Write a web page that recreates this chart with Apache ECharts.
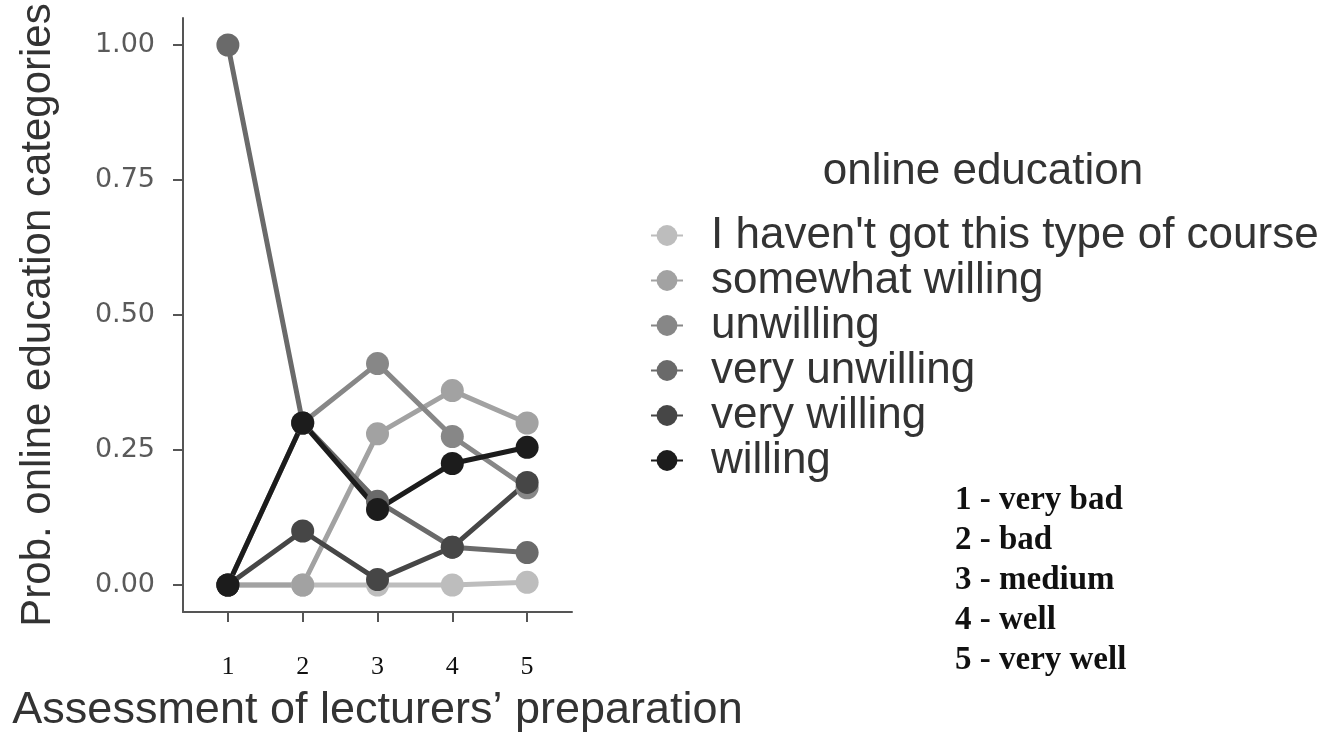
<!DOCTYPE html>
<html>
<head>
<meta charset="utf-8">
<script src="https://cdn.jsdelivr.net/npm/echarts@6/dist/echarts.min.js"></script>
<style>
html,body{margin:0;padding:0;background:#fff;}
#chart{width:1332px;height:739px;}
</style>
</head>
<body>
<div id="chart"></div>
<script>
const categories = [1, 2, 3, 4, 5];
const seriesNames = ["I haven't got this type of course", "somewhat willing", "unwilling", "very unwilling", "very willing", "willing"];
const haventGot      = [0.00, 0.00, 0.00, 0.00, 0.005];
const somewhatWilling = [0.00, 0.00, 0.28, 0.36, 0.30];
const unwilling      = [0.00, 0.30, 0.41, 0.275, 0.18];
const veryUnwilling  = [1.00, 0.30, 0.155, 0.07, 0.06];
const veryWilling    = [0.00, 0.10, 0.01, 0.07, 0.19];
const willing        = [0.00, 0.30, 0.14, 0.225, 0.255];
const yTicks = [0, 0.25, 0.5, 0.75, 1];
const scaleLabels = ["1 - very bad", "2 - bad", "3 - medium", "4 - well", "5 - very well"];
const legendTitle = "online education";
const xTitle = "Assessment of lecturers\u2019 preparation";
const yTitle = "Prob. online education categories";

const values = [haventGot, somewhatWilling, unwilling, veryUnwilling, veryWilling, willing];
const colors = ['#bdbdbd', '#a2a2a2', '#878787', '#6a6a6a', '#464646', '#1c1c1c'];

const chart = echarts.init(document.getElementById('chart'), null, {renderer: 'canvas'});

const series = seriesNames.map((name, i) => ({
  name: name,
  type: 'line',
  data: categories.map((c, j) => [c, values[i][j]]),
  symbol: 'circle',
  symbolSize: 23,
  lineStyle: {width: 5, color: colors[i]},
  itemStyle: {color: colors[i]},
  emphasis: {disabled: true},
  animation: false
}));

const graphics = [{
  type: 'text',
  x: 983, y: 172,
  style: {text: legendTitle, font: '44px "Liberation Sans", Arial, sans-serif', fill: '#333', textAlign: 'center', textVerticalAlign: 'middle'}
}].concat(scaleLabels.map((t, i) => ({
  type: 'text',
  x: 955, y: 500 + i * 40,
  style: {text: t, font: 'bold 33px "Liberation Serif", "Times New Roman", serif', fill: '#111', textAlign: 'left', textVerticalAlign: 'middle'}
})));

chart.setOption({
  animation: false,
  backgroundColor: '#fff',
  grid: {left: 183, top: 18, width: 389, height: 594, containLabel: false, outerBoundsMode: 'none'},
  xAxis: {
    type: 'value', min: 0.4, max: 5.6,
    name: xTitle, nameLocation: 'middle', nameGap: 76,
    nameTextStyle: {fontSize: 45, color: '#333', fontFamily: '"Liberation Sans", Arial, sans-serif'},
    axisLine: {show: true, onZero: false, lineStyle: {color: '#555', width: 2}},
    axisTick: {show: true, length: 10, lineStyle: {color: '#555', width: 2}, customValues: categories},
    axisLabel: {customValues: categories, margin: 42, fontSize: 26, color: '#111', fontFamily: '"Liberation Serif", "Times New Roman", serif'},
    splitLine: {show: false}
  },
  yAxis: {
    type: 'value', min: -0.05, max: 1.05,
    name: yTitle, nameLocation: 'middle', nameGap: 124,
    nameTextStyle: {fontSize: 42, color: '#333', fontFamily: '"Liberation Sans", Arial, sans-serif'},
    axisLine: {show: true, onZero: false, lineStyle: {color: '#555', width: 2}},
    axisTick: {show: true, length: 10, lineStyle: {color: '#555', width: 2}, customValues: yTicks},
    axisLabel: {customValues: yTicks, margin: 28, fontSize: 27, color: '#5a5a5a', fontFamily: '"DejaVu Sans", sans-serif', formatter: v => v.toFixed(2)},
    splitLine: {show: false}
  },
  legend: {
    orient: 'vertical', left: 645, top: 208,
    itemWidth: 32, itemHeight: 26, itemGap: 0,
    data: seriesNames,
    textStyle: {fontSize: 44, lineHeight: 45, color: '#333', fontFamily: '"Liberation Sans", Arial, sans-serif', padding: [0, 0, 0, 23]},
    selectedMode: false
  },
  graphic: graphics,
  series: series
});
</script>
</body>
</html>
